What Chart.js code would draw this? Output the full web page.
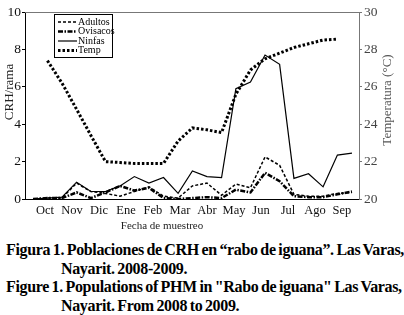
<!DOCTYPE html>
<html>
<head>
<meta charset="utf-8">
<script src="https://cdn.jsdelivr.net/npm/chart.js@4.4.0/dist/chart.umd.min.js"></script>
<style>
  body { margin: 0; background: #fff; }
  #wrap { position: relative; width: 404px; height: 315px; overflow: hidden; }
  #grafica { position: absolute; left: 0; top: 0; }
  .pie { position: absolute; font-family: "Liberation Serif", serif; font-weight: bold;
         font-size: 16px; line-height: 18px; letter-spacing: -0.35px; word-spacing: -1px; white-space: nowrap; color: #000; }
</style>
</head>
<body>
<div id="wrap">
  <canvas id="grafica" width="404" height="240"></canvas>
  <div class="pie" style="left:6px;top:241px">Figura 1. Poblaciones de CRH en “rabo de iguana”. Las Varas,</div>
  <div class="pie" style="left:61px;top:260px">Nayarit. 2008-2009.</div>
  <div class="pie" style="left:6px;top:278px">Figure 1. Populations of PHM in "Rabo de iguana" Las Varas,</div>
  <div class="pie" style="left:61px;top:297px">Nayarit. From 2008 to 2009.</div>
</div>
<script>
var meses = ['Oct', 'Nov', 'Dic', 'Ene', 'Feb', 'Mar', 'Abr', 'May', 'Jun', 'Jul', 'Ago', 'Sep'];

// fechas de muestreo (en meses, Oct = 0)
var fechas = [-0.44, 0.09, 0.63, 1.17, 1.70, 2.24, 2.78, 3.31, 3.85, 4.39, 4.93, 5.46,
              6.00, 6.54, 7.07, 7.61, 8.15, 8.69, 9.22, 9.76, 10.30, 10.83, 11.37];
var adultos = [0, 0.05, 0.05, 0.85, 0.4, 0.3, 0.15, 0.4, 0.65, 0.15, 0.05, 0.7,
               0.85, 0.2, 0.8, 0.6, 2.25, 1.8, 0.25, 0.15, 0.15, 0.3, 0.35];
var ovisacos = [0, 0.05, 0.05, 0.35, 0.05, 0.35, 0.7, 0.45, 0.6, 0.05, 0, 0.05,
                0.1, 0.05, 0.5, 0.35, 1.4, 0.95, 0.15, 0.1, 0.1, 0.25, 0.4];
var ninfas = [0, 0.05, 0.1, 0.9, 0.4, 0.4, 0.7, 1.2, 0.85, 1.15, 0.3, 1.5,
              1.2, 1.15, 5.9, 6.25, 7.7, 7.2, 1.1, 1.35, 0.65, 2.35, 2.45];

var fechasTemp = [0.09, 0.63, 1.17, 1.70, 2.24, 2.78, 3.31, 3.85, 4.39, 4.93, 5.46,
                  6.00, 6.54, 7.07, 7.61, 8.15, 8.69, 9.22, 9.76, 10.30, 10.83];
var temp = [27.4, 26.2, 24.8, 23.4, 22.0, 21.95, 21.9, 21.9, 21.9, 23.1, 23.8,
            23.7, 23.55, 25.6, 26.9, 27.5, 27.8, 28.1, 28.3, 28.5, 28.55];

function puntos(xs, ys) {
    return xs.map(function (x, i) { return {x: x, y: ys[i]}; });
}

var serif = '"Liberation Serif", "Times New Roman", serif';

// caja, leyenda y titulos de ejes
var extras = {
    id: 'extras',
    afterDraw: function (chart) {
        var ctx = chart.ctx;
        var a = chart.chartArea;
        ctx.save();
        ctx.strokeStyle = '#777';
        ctx.lineWidth = 1;
        ctx.beginPath();
        ctx.moveTo(a.left, a.top + 0.5);
        ctx.lineTo(a.right, a.top + 0.5);
        ctx.stroke();

        // leyenda
        ctx.fillStyle = '#fff';
        ctx.fillRect(54.5, 14.5, 58, 43);
        ctx.strokeStyle = '#000';
        ctx.strokeRect(54.5, 14.5, 58, 43);
        ctx.font = '10px ' + serif;
        ctx.textBaseline = 'middle';
        chart.data.datasets.forEach(function (ds, i) {
            var y = 22 + i * 9.5;
            ctx.strokeStyle = '#000';
            ctx.lineWidth = ds.borderWidth;
            ctx.setLineDash(ds.borderDash || []);
            ctx.beginPath();
            ctx.moveTo(58, y);
            ctx.lineTo(77, y);
            ctx.stroke();
            ctx.setLineDash([]);
            ctx.fillStyle = '#000';
            ctx.textAlign = 'left';
            ctx.fillText(ds.label, 78, y);
        });

        // titulos
        ctx.font = '13px ' + serif;
        ctx.textAlign = 'center';
        ctx.fillStyle = '#222';
        ctx.translate(10, 92);
        ctx.rotate(-Math.PI / 2);
        ctx.fillText('CRH/rama', 0, 0);
        ctx.restore();

        ctx.save();
        ctx.font = '13px ' + serif;
        ctx.textAlign = 'center';
        ctx.textBaseline = 'middle';
        ctx.fillStyle = '#555';
        ctx.translate(388, 100);
        ctx.rotate(-Math.PI / 2);
        ctx.fillText('Temperatura (°C)', 0, 0);
        ctx.restore();

        ctx.save();
        ctx.font = '11px ' + serif;
        ctx.textAlign = 'center';
        ctx.textBaseline = 'middle';
        ctx.fillStyle = '#222';
        ctx.fillText('Fecha de muestreo', 162, 226);
        ctx.restore();
    }
};

var ctx = document.getElementById('grafica').getContext('2d');
var chart = new Chart(ctx, {
    type: 'line',
    data: {
        datasets: [{
            label: 'Adultos',
            data: puntos(fechas, adultos),
            borderColor: '#000',
            borderWidth: 1.5,
            borderDash: [3, 2],
            yAxisID: 'y'
        }, {
            label: 'Ovisacos',
            data: puntos(fechas, ovisacos),
            borderColor: '#000',
            borderWidth: 2.5,
            borderDash: [5, 1.5, 1.5, 1.5],
            yAxisID: 'y'
        }, {
            label: 'Ninfas',
            data: puntos(fechas, ninfas),
            borderColor: '#000',
            borderWidth: 1.2,
            yAxisID: 'y'
        }, {
            label: 'Temp',
            data: puntos(fechasTemp, temp),
            borderColor: '#000',
            borderWidth: 3,
            borderDash: [2.5, 2],
            yAxisID: 'y1'
        }]
    },
    options: {
        responsive: false,
        animation: false,
        devicePixelRatio: 1,
        layout: {padding: {top: 12, left: 0, right: 0, bottom: 0}},
        elements: {point: {radius: 0}, line: {tension: 0, fill: false}},
        plugins: {legend: {display: false}, tooltip: {enabled: false}},
        scales: {
            x: {
                type: 'linear',
                min: -0.74,
                max: 11.63,
                afterFit: function (s) { s.height = 41; },
                grid: {display: false, drawTicks: false},
                border: {color: '#000'},
                ticks: {
                    stepSize: 1,
                    includeBounds: false,
                    autoSkip: false,
                    maxRotation: 0,
                    padding: 4,
                    color: '#111',
                    font: {family: serif, size: 12.5},
                    callback: function (v) { return meses[v] || ''; }
                }
            },
            y: {
                position: 'left',
                min: 0,
                max: 10,
                afterFit: function (s) { s.width = 25; },
                grid: {drawOnChartArea: false, tickLength: 3, color: '#000'},
                border: {color: '#000'},
                ticks: {stepSize: 2, padding: 1, color: '#111', font: {family: serif, size: 13.5}}
            },
            y1: {
                position: 'right',
                min: 20,
                max: 30,
                afterFit: function (s) { s.width = 45; },
                grid: {drawOnChartArea: false, tickLength: 3, color: '#777'},
                border: {color: '#777'},
                ticks: {stepSize: 2, padding: 2, color: '#444', font: {family: serif, size: 13.5}}
            }
        }
    },
    plugins: [extras]
});
</script>
</body>
</html>
